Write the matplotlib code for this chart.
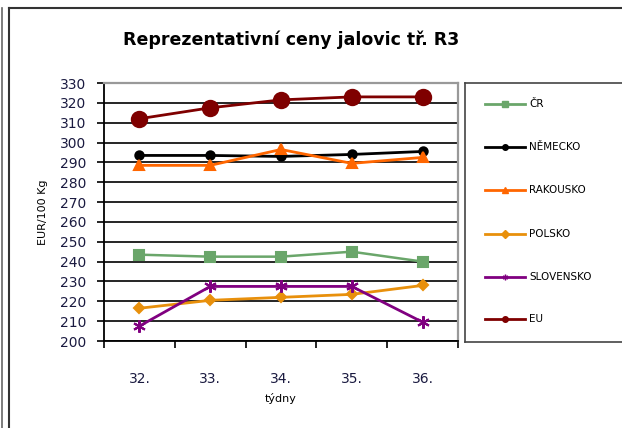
import matplotlib.pyplot as plt
from matplotlib.lines import Line2D
import numpy as np

weeks = ['32.', '33.', '34.', '35.', '36.']
cr = [243.5, 242.5, 242.5, 245, 240]
nemecko = [293.5, 293.5, 293, 294, 295.5]
rakousko = [288.5, 288.5, 296.5, 289.5, 292.5]
polsko = [216.5, 220.5, 222, 223.5, 228]
slovensko = [207.5, 227.5, 227.5, 227.5, 209.5]
eu = [312, 317.5, 321.5, 323, 323]

series = [
    ('ČR', cr, '#6aa66a', 's', 7, 1.8),
    ('NĚMECKO', nemecko, '#000000', 'o', 6, 2.0),
    ('RAKOUSKO', rakousko, '#ff6600', '^', 7, 2.0),
    ('POLSKO', polsko, '#e8900c', 'D', 5, 2.0),
    ('SLOVENSKO', slovensko, '#800080', (6, 2, 0), 9, 2.0),
    ('EU', eu, '#7f0000', 'o', 11, 2.0),
]

fig = plt.figure(figsize=(6.22, 4.28), dpi=100)
ax = fig.add_axes([104 / 622, 1 - 341 / 428, 354 / 622, 258 / 428])

x = np.arange(len(weeks)) + 0.5
for name, vals, color, marker, ms, lw in series:
    ax.plot(x, vals, color=color, marker=marker, markersize=ms, lw=lw,
            markeredgecolor=color, markeredgewidth=1.5, label=name, clip_on=False)

ax.set_xlim(0, 5)
ax.set_ylim(200, 330)
ax.set_yticks(np.arange(200, 331, 10))
ax.set_xticks(np.arange(0, 6))
ax.set_xticklabels([])
ax.set_xticks(x, minor=True)
ax.set_xticklabels(weeks, minor=True)
ax.tick_params(axis='x', which='minor', length=0, pad=22, labelsize=10, labelcolor='#1a1a40')
ax.tick_params(axis='x', which='major', length=5, width=1.2, direction='out')
ax.tick_params(axis='y', length=5, width=1.2, direction='out', labelsize=10, labelcolor='#1a1a40', pad=8)
ax.yaxis.grid(True, color='black', lw=1.2)
ax.set_axisbelow(True)
for s in ['top', 'right']:
    ax.spines[s].set_color('#999999')
    ax.spines[s].set_linewidth(1.6)
for s in ['left', 'bottom']:
    ax.spines[s].set_color('black')
    ax.spines[s].set_linewidth(1.3)

ax.set_ylabel('EUR/100 Kg', fontsize=8, labelpad=8)
ax.set_xlabel('týdny', fontsize=8, labelpad=2)
ax.xaxis.set_label_coords(0.5, -0.2)

fig.text(291 / 622, 1 - 40 / 428, 'Reprezentativní ceny jalovic tř. R3',
         ha='center', va='center', fontsize=12.5, fontweight='bold')

# legend box
lax = fig.add_axes([465 / 622, 1 - 342 / 428, 160 / 622, 259 / 428])
lax.set_xlim(465, 625)
lax.set_ylim(342, 83)
lax.set_xticks([])
lax.set_yticks([])
for s in lax.spines.values():
    s.set_color('#444444')
    s.set_linewidth(1.2)
ly = [104, 147, 190, 234, 277, 319]
for (name, vals, color, marker, ms, lw), yy in zip(series, ly):
    lax.plot([485, 525], [yy, yy], color=color, lw=2)
    lax.plot([505], [yy], color=color, marker=marker, markersize=4,
             markeredgecolor=color)
    lax.text(529, yy, name, fontsize=7.5, va='center', ha='left')

# outer frame lines
fig.add_artist(Line2D([2 / 622, 2 / 622], [0, 1 - 8 / 428], color='#666666', lw=1.2))
fig.add_artist(Line2D([9 / 622, 9 / 622], [0, 1 - 8 / 428], color='#333333', lw=1.5))
fig.add_artist(Line2D([9 / 622, 1], [1 - 8 / 428, 1 - 8 / 428], color='#333333', lw=1.5))

fig.savefig('out.png', dpi=100)
